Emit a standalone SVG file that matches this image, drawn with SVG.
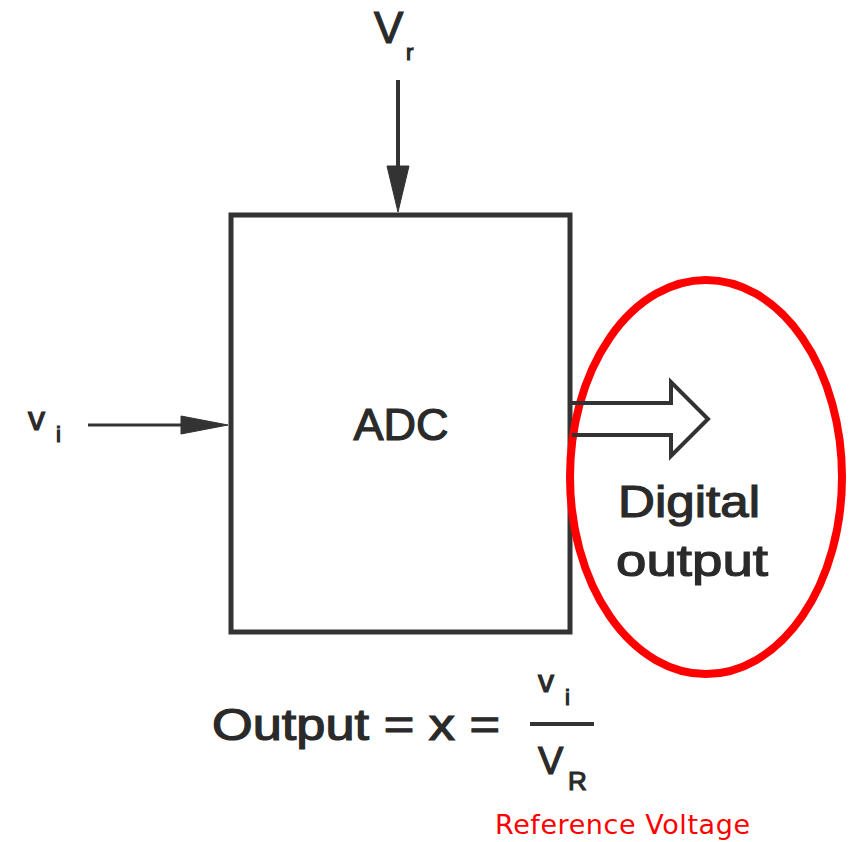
<svg xmlns="http://www.w3.org/2000/svg" width="864" height="842" viewBox="0 0 864 842">
<defs>
<style>
.ln{stroke:#333;fill:none}
.t{font-family:"Liberation Sans",Arial,sans-serif;fill:#2a2a2a;stroke:#2a2a2a;stroke-width:1.2}
.red{font-family:"DejaVu Sans",Verdana,sans-serif;fill:#ff0000}
.ah{fill:#333;stroke:#333;stroke-width:1}
</style>
</defs>
<rect width="864" height="842" fill="#fff"/>
<g id="adc">
<rect x="231" y="215" width="339" height="417" class="ln" stroke-width="5"/>
<text x="401" y="440" class="t" font-size="45" text-anchor="middle">ADC</text>
</g>
<g id="vr">
<text x="374" y="43" class="t" font-size="44">V</text>
<text x="406" y="60" class="t" font-size="22">r</text>
</g>
<g id="vi">
<text x="28" y="430" class="t" font-size="34">v</text>
<text x="56" y="442" class="t" font-size="22">i</text>
</g>
<g id="digital">
<text x="689" y="517" class="t" font-size="44" text-anchor="middle" textLength="142" lengthAdjust="spacingAndGlyphs">Digital</text>
<text x="692" y="576" class="t" font-size="44" text-anchor="middle" textLength="152" lengthAdjust="spacingAndGlyphs">output</text>
</g>
<g id="formula">
<text x="212" y="740" class="t" font-size="44" textLength="288" lengthAdjust="spacingAndGlyphs">Output = x =</text>
<text x="538" y="692" class="t" font-size="32">v</text>
<text x="565" y="705" class="t" font-size="22">i</text>
<line x1="530" y1="724" x2="594" y2="724" stroke="#333" stroke-width="4"/>
<text x="538" y="774" class="t" font-size="38">V</text>
<text x="568" y="790" class="t" font-size="26">R</text>
</g>
<g id="refv">
<text x="495" y="834" class="red" font-size="27" textLength="255">Reference Voltage</text>
</g>
<g id="highlight">
<ellipse cx="706" cy="477" rx="136" ry="197" fill="none" stroke="#ff0000" stroke-width="8"/>
</g>
<g id="connectors">
<line x1="398" y1="80" x2="398" y2="200" class="ln" stroke-width="4"/>
<polygon points="387,166 409,166 398,212" class="ah"/>
<line x1="88" y1="425" x2="200" y2="425" class="ln" stroke-width="3"/>
<polygon points="181,416 181,434 228,425" class="ah"/>
<path d="M572,403 L671,403 L671,382 L708,419 L671,456 L671,435 L572,435" class="ln" stroke-width="4" stroke-linejoin="miter"/>
</g>
</svg>
